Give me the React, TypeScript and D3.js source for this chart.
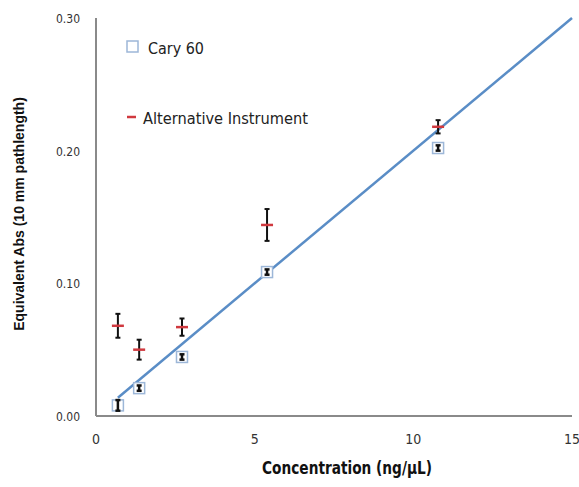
import * as d3 from "d3";

// Cary 60 measurements
const caryX = [0.69, 1.36, 2.71, 5.39, 10.78];
const caryY = [0.008, 0.021, 0.0445, 0.1085, 0.202];
const caryErr = [0.004, 0.002, 0.002, 0.002, 0.002];

// alternative instrument
const altX = [0.69, 1.36, 2.71, 5.39, 10.78];
const altY = [0.068, 0.05, 0.067, 0.144, 0.218];
const altErr = [0.009, 0.0075, 0.0065, 0.012, 0.005];

// linear fit through origin
const fitSlope = 0.02;
const fitX = [0.69, 15];

const xTicks = [0, 5, 10, 15];
const yTicks = [0, 0.1, 0.2, 0.3];

const W = 579, H = 487;
const m = { top: 18, right: 7, bottom: 71, left: 96 };

export default function App() {
  const x = d3.scaleLinear().domain([0, 15]).range([m.left, W - m.right]);
  const y = d3.scaleLinear().domain([0, 0.3]).range([H - m.bottom, m.top]);
  const line = d3.line<number>().x(d => x(d)).y(d => y(d * fitSlope));
  const cond = "'DejaVu Sans Condensed', 'DejaVu Sans', sans-serif";

  const errBar = (cx: number, lo: number, hi: number, k: string, w = 2) => (
    <g key={k} stroke="#111" strokeWidth={w}>
      <line x1={cx} x2={cx} y1={y(lo)} y2={y(hi)} />
      <line x1={cx - 2.5} x2={cx + 2.5} y1={y(lo)} y2={y(lo)} />
      <line x1={cx - 2.5} x2={cx + 2.5} y1={y(hi)} y2={y(hi)} />
    </g>
  );

  return (
    <svg width={W} height={H} style={{ position: "absolute", left: 0, top: 0, background: "#fff" }}>
      {/* axes */}
      <line x1={x(0)} x2={x(15)} y1={y(0)} y2={y(0)} stroke="#8a8a8a" strokeWidth={2} />
      <line x1={x(0)} x2={x(0)} y1={y(0)} y2={y(0.3)} stroke="#8a8a8a" strokeWidth={2} />
      {yTicks.map(t => (
        <text key={t} x={x(0) - 16} y={y(t) + 5} textAnchor="end" fontFamily={cond} fontStretch="condensed"
          fontSize={13} fill="#333" textLength={24} lengthAdjust="spacingAndGlyphs">
          {t.toFixed(2)}
        </text>
      ))}
      {xTicks.map(t => (
        <text key={t} x={x(t)} y={y(0) + 28} textAnchor="middle" fontFamily={cond} fontStretch="condensed"
          fontSize={14} fill="#333">
          {t}
        </text>
      ))}
      <text x={347} y={474} textAnchor="middle" fontFamily={cond} fontStretch="condensed" fontWeight="bold"
        fontSize={18} fill="#111" textLength={170} lengthAdjust="spacingAndGlyphs">
        Concentration (ng/µL)
      </text>
      <text transform="translate(24,214) rotate(-90)" textAnchor="middle" fontFamily="'Liberation Sans', Arial, sans-serif"
        fontWeight="bold" fontSize={14} fill="#111">
        Equivalent Abs (10 mm pathlength)
      </text>

      {/* fit line */}
      <path d={line(fitX) ?? ""} fill="none" stroke="#5a8dc6" strokeWidth={2.5} />

      {/* Cary 60 */}
      {caryX.map((v, i) => (
        <g key={"c" + i}>
          <rect x={x(v) - 5.5} y={y(caryY[i]) - 5.5} width={11} height={11} fill="#fff" stroke="#9db7d8" strokeWidth={1.5} />
          {errBar(x(v), caryY[i] - caryErr[i], caryY[i] + caryErr[i], "ce" + i, 2.5)}
        </g>
      ))}

      {/* alternative instrument */}
      {altX.map((v, i) => (
        <g key={"a" + i}>
          {errBar(x(v), altY[i] - altErr[i], altY[i] + altErr[i], "ae" + i)}
          <line x1={x(v) - 6} x2={x(v) + 6} y1={y(altY[i])} y2={y(altY[i])} stroke="#d0393f" strokeWidth={2.5} />
        </g>
      ))}

      {/* legend */}
      <rect x={127} y={41} width={11} height={11} fill="#fff" stroke="#9db7d8" strokeWidth={1.5} />
      <text x={148} y={54} fontFamily={cond} fontStretch="condensed" fontSize={16} fill="#222"
        textLength={56} lengthAdjust="spacingAndGlyphs">Cary 60</text>
      <line x1={127} x2={136} y1={117} y2={117} stroke="#d0393f" strokeWidth={2.5} />
      <text x={143} y={124} fontFamily={cond} fontStretch="condensed" fontSize={16} fill="#222"
        textLength={165} lengthAdjust="spacingAndGlyphs">Alternative Instrument</text>
    </svg>
  );
}
